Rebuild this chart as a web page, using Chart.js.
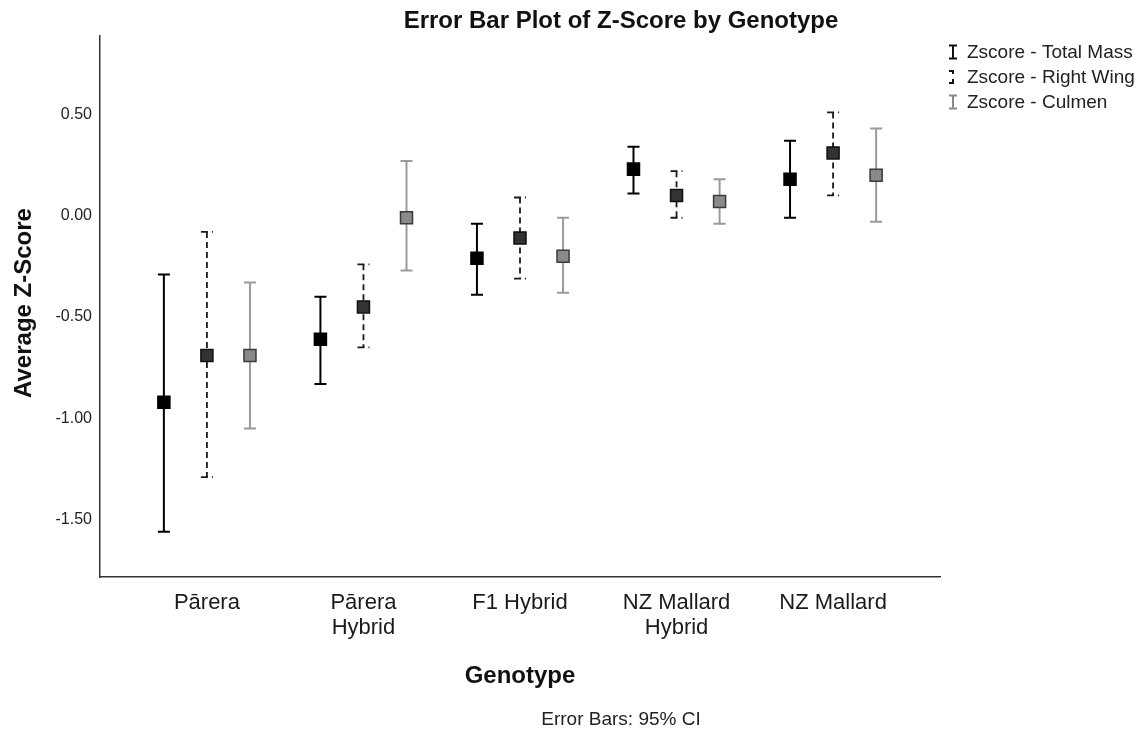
<!DOCTYPE html>
<html>
<head>
<meta charset="utf-8">
<script src="https://cdn.jsdelivr.net/npm/chart.js@4/dist/chart.umd.min.js"></script>
<style>
  html, body { margin: 0; padding: 0; background: #ffffff; }
  #wrap { width: 1144px; height: 734px; }
</style>
</head>
<body>
<div id="wrap"><canvas id="c" width="1144" height="734"></canvas></div>
<script>
// Genotype groups (multi-line tick labels)
const genotypes = [['Pārera'], ['Pārera', 'Hybrid'], ['F1 Hybrid'], ['NZ Mallard', 'Hybrid'], ['NZ Mallard']];
const seriesNames = ['Zscore - Total Mass', 'Zscore - Right Wing', 'Zscore - Culmen'];

// Means and 95% CI bounds per genotype
const totalMassMean = [-0.92, -0.61, -0.21, 0.23, 0.18];
const totalMassLow  = [-1.56, -0.83, -0.39, 0.11, -0.01];
const totalMassHigh = [-0.29, -0.40, -0.04, 0.34, 0.37];

const rightWingMean = [-0.69, -0.45, -0.11, 0.10, 0.31];
const rightWingLow  = [-1.29, -0.65, -0.31, -0.01, 0.10];
const rightWingHigh = [-0.08, -0.24, 0.09, 0.22, 0.51];

const culmenMean = [-0.69, -0.01, -0.20, 0.07, 0.20];
const culmenLow  = [-1.05, -0.27, -0.38, -0.04, -0.03];
const culmenHigh = [-0.33, 0.27, -0.01, 0.18, 0.43];

const yTickValues = [-1.5, -1.0, -0.5, 0, 0.5];

const FONT = '"Liberation Sans", Arial, Helvetica, sans-serif';

// Visual style of each series
const seriesStyle = [
  { offset: -0.275, line: '#000000', width: 2,   dash: [],     capDash: [],     fill: '#000000', border: '#000000' },
  { offset:  0,     line: '#1a1a1a', width: 1.8, dash: [6, 4], capDash: [7, 4], fill: '#333333', border: '#111111' },
  { offset:  0.275, line: '#9a9a9a', width: 2,   dash: [],     capDash: [],     fill: '#8a8a8a', border: '#3a3a3a' }
];

const means = [totalMassMean, rightWingMean, culmenMean];
const lows  = [totalMassLow, rightWingLow, culmenLow];
const highs = [totalMassHigh, rightWingHigh, culmenHigh];

const datasets = seriesNames.map((name, s) => ({
  label: name,
  data: means[s].map((m, i) => ({ x: i + seriesStyle[s].offset, y: m })),
  errLow: lows[s],
  errHigh: highs[s],
  pointStyle: 'rect',
  pointRadius: 8.5,
  pointHoverRadius: 8.5,
  pointBackgroundColor: seriesStyle[s].fill,
  pointBorderColor: seriesStyle[s].border,
  pointBorderWidth: 1.5,
  showLine: false
}));

// Draws the CI whiskers beneath the markers
const errorBars = {
  id: 'errorBars',
  beforeDatasetsDraw(chart) {
    const ctx = chart.ctx;
    const y = chart.scales.y;
    chart.data.datasets.forEach((ds, s) => {
      const st = seriesStyle[s];
      const meta = chart.getDatasetMeta(s);
      meta.data.forEach((pt, j) => {
        const px = pt.x;
        const yl = y.getPixelForValue(ds.errLow[j]);
        const yh = y.getPixelForValue(ds.errHigh[j]);
        ctx.save();
        ctx.strokeStyle = st.line;
        ctx.lineWidth = st.width;
        ctx.setLineDash(st.dash);
        ctx.beginPath();
        ctx.moveTo(px, yh);
        ctx.lineTo(px, yl);
        ctx.stroke();
        ctx.setLineDash(st.capDash);
        ctx.beginPath();
        ctx.moveTo(px - 6, yh); ctx.lineTo(px + 6, yh);
        ctx.moveTo(px - 6, yl); ctx.lineTo(px + 6, yl);
        ctx.stroke();
        ctx.restore();
      });
    });
  }
};

// Titles, legend and footnote
const decorations = {
  id: 'decorations',
  afterDraw(chart) {
    const ctx = chart.ctx;
    ctx.save();
    ctx.fillStyle = '#111111';
    ctx.textBaseline = 'middle';
    ctx.textAlign = 'center';

    ctx.font = 'bold 24px ' + FONT;
    ctx.fillText('Error Bar Plot of Z-Score by Genotype', 621, 21);
    ctx.fillText('Genotype', 520, 676);

    ctx.save();
    ctx.translate(24, 303);
    ctx.rotate(-Math.PI / 2);
    ctx.fillText('Average Z-Score', 0, 0);
    ctx.restore();

    ctx.fillStyle = '#222222';
    ctx.font = '19px ' + FONT;
    ctx.fillText('Error Bars: 95% CI', 621, 720);

    // Legend
    const rows = [52, 77, 102];
    ctx.textAlign = 'left';
    seriesNames.forEach((name, s) => {
      const st = seriesStyle[s];
      const cx = 953, cy = rows[s];
      ctx.save();
      ctx.strokeStyle = s === 2 ? '#8a8a8a' : '#111111';
      ctx.lineWidth = 2;
      ctx.beginPath();
      if (s === 1) {
        ctx.moveTo(cx - 4, cy - 6); ctx.lineTo(cx, cy - 6); ctx.lineTo(cx, cy - 3);
        ctx.moveTo(cx, cy + 2); ctx.lineTo(cx, cy + 6); ctx.lineTo(cx - 4, cy + 6);
      } else {
        ctx.moveTo(cx - 4, cy - 6.5); ctx.lineTo(cx + 4, cy - 6.5);
        ctx.moveTo(cx, cy - 6.5); ctx.lineTo(cx, cy + 6.5);
        ctx.moveTo(cx - 4, cy + 6.5); ctx.lineTo(cx + 4, cy + 6.5);
      }
      ctx.stroke();
      ctx.restore();
      ctx.fillText(name, 967, cy + 1);
    });
    ctx.restore();
  }
};

new Chart(document.getElementById('c'), {
  type: 'scatter',
  data: { datasets },
  plugins: [errorBars, decorations],
  options: {
    responsive: false,
    animation: false,
    devicePixelRatio: 1,
    layout: { padding: { left: 0, top: 36, right: 204, bottom: 0 } },
    plugins: {
      legend: { display: false },
      title: { display: false },
      tooltip: { enabled: false }
    },
    scales: {
      x: {
        type: 'linear',
        min: -0.683,
        max: 4.683,
        afterFit(scale) { scale.height = 157; },
        afterBuildTicks(scale) { scale.ticks = genotypes.map((g, i) => ({ value: i })); },
        grid: { display: false, drawTicks: false },
        border: { display: true, color: '#333333', width: 1.5 },
        ticks: {
          padding: 13,
          color: '#1a1a1a',
          font: { family: FONT, size: 22, lineHeight: 1.15 },
          maxRotation: 0,
          autoSkip: false,
          callback: (v) => genotypes[Math.round(v)]
        }
      },
      y: {
        type: 'linear',
        min: -1.783,
        max: 0.887,
        afterFit(scale) { scale.width = 100; },
        afterBuildTicks(scale) { scale.ticks = yTickValues.map(v => ({ value: v })); },
        grid: { display: false, drawTicks: false },
        border: { display: true, color: '#333333', width: 1.5 },
        ticks: {
          padding: 8,
          color: '#222222',
          font: { family: FONT, size: 16 },
          callback: (v) => Number(v).toFixed(2)
        }
      }
    }
  }
});
</script>
</body>
</html>
